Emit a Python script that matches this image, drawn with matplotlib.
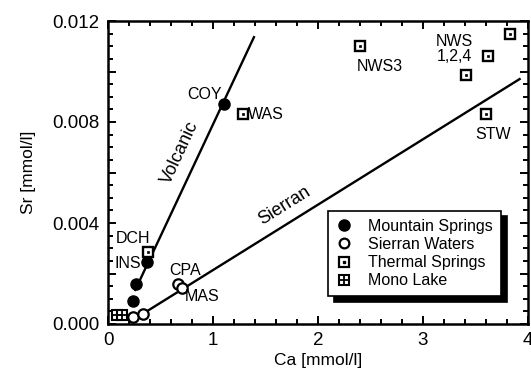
import matplotlib
matplotlib.use("Agg")
import matplotlib.pyplot as plt
from matplotlib.ticker import MultipleLocator, FuncFormatter
from matplotlib.lines import Line2D

plt.rcParams['font.family'] = ['Liberation Sans', 'DejaVu Sans']

# ---- data ----
mountain_ca = [1.10, 0.37, 0.27, 0.24]
mountain_sr = [0.0087, 0.00246, 0.00159, 0.00091]

sierran_ca = [0.24, 0.33, 0.67, 0.70]
sierran_sr = [0.00028, 0.00040, 0.00160, 0.00143]

thermal_ca = [1.29, 2.40, 3.41, 3.62, 3.83, 3.60, 0.38]
thermal_sr = [0.0083, 0.0110, 0.00985, 0.01061, 0.01148, 0.0083, 0.00286]

mono_ca = [0.086, 0.133]
mono_sr = [0.00036, 0.00036]

volcanic_line_ca = [0.26, 1.39]
volcanic_line_sr = [0.00135, 0.01136]
sierran_line_ca = [0.33, 3.92]
sierran_line_sr = [0.00040, 0.0097]

labels = ["COY", "WAS", "NWS3", "NWS\n1,2,4", "STW", "DCH", "INS", "CPA", "MAS"]
label_ca = [0.92, 1.33, 2.59, 3.30, 3.67, 0.24, 0.19, 0.73, 0.90]
label_sr = [0.0091, 0.0083, 0.0102, 0.0109, 0.0075, 0.0034, 0.0024, 0.0021, 0.00107]
label_ha = ["center", "left", "center", "center", "center", "center", "center", "center", "center"]

legend_names = ["Mountain Springs", "Sierran Waters", "Thermal Springs", "Mono Lake"]

# ---- figure ----
fig = plt.figure(figsize=(5.31, 3.81), dpi=100)
ax = fig.add_axes([108/531, 1 - 324/381, 420/531, 303/381])

ax.plot(volcanic_line_ca, volcanic_line_sr, color='black', lw=1.7, zorder=2)
ax.plot(sierran_line_ca, sierran_line_sr, color='black', lw=1.7, zorder=2)

ax.plot(mountain_ca, mountain_sr, 'o', ms=8, mfc='black', mec='black', zorder=4, clip_on=False)
ax.plot(sierran_ca, sierran_sr, 'o', ms=7.5, mfc='white', mec='black', mew=1.6, zorder=4, clip_on=False)
ax.plot(thermal_ca, thermal_sr, 's', ms=7.5, mfc='white', mec='black', mew=1.7, zorder=3, clip_on=False)
ax.plot(thermal_ca, thermal_sr, 's', ms=1.8, mfc='black', mec='black', mew=0.5, zorder=3, clip_on=False)
ax.plot(mono_ca, mono_sr, 's', ms=7, mfc='white', mec='black', mew=1.5, zorder=3, clip_on=False)
ax.plot(mono_ca, mono_sr, '+', ms=7, mec='black', mew=1.3, zorder=3, clip_on=False)

for t, x, y, ha in zip(labels, label_ca, label_sr, label_ha):
    ax.text(x, y, t, ha=ha, va='center', fontsize=11.5, linespacing=1.0, zorder=5)

ax.text(0.69, 0.0068, "Volcanic", rotation=65, ha='center', va='center', fontsize=13)
ax.text(1.68, 0.0047, "Sierran", rotation=32, ha='center', va='center', fontsize=13)

ax.set_xlim(0, 4)
ax.set_ylim(0, 0.012)
ax.xaxis.set_major_locator(MultipleLocator(1))
ax.xaxis.set_minor_locator(MultipleLocator(0.2))
ax.yaxis.set_major_locator(MultipleLocator(0.002))
ax.yaxis.set_minor_locator(MultipleLocator(0.0005))
ax.yaxis.set_major_formatter(FuncFormatter(lambda v, p: f"{v:.3f}" if abs(round(v / 0.004) * 0.004 - v) < 1e-9 else ""))
ax.tick_params(which='both', direction='in', top=True, right=True, width=1.4)
ax.tick_params(which='major', length=6, labelsize=13.5, pad=6)
ax.tick_params(which='minor', length=3.5)
for s in ax.spines.values():
    s.set_linewidth(1.8)

ax.set_xlabel("Ca [mmol/l]", fontsize=12.5, labelpad=3)
ax.set_ylabel("Sr [mmol/l]", fontsize=12.5, labelpad=12)

handles = [
    Line2D([], [], ls='none', marker='o', ms=8, mfc='black', mec='black'),
    Line2D([], [], ls='none', marker='o', ms=7, mfc='white', mec='black', mew=1.6),
    (Line2D([], [], ls='none', marker='s', ms=7, mfc='white', mec='black', mew=1.6),
     Line2D([], [], ls='none', marker='s', ms=1.8, mfc='black', mec='black')),
    (Line2D([], [], ls='none', marker='s', ms=7, mfc='white', mec='black', mew=1.5),
     Line2D([], [], ls='none', marker='+', ms=7, mec='black', mew=1.3)),
]
leg = ax.legend(handles, legend_names, loc='lower right', bbox_to_anchor=(0.955, 0.065),
                fontsize=11.5, frameon=True, fancybox=False, handlelength=1.0,
                handletextpad=1.0, labelspacing=0.2, borderpad=0.5,
                shadow={'color': 'black', 'alpha': 1, 'ox': 4, 'oy': -4})
leg.get_frame().set_edgecolor('black')
leg.get_frame().set_linewidth(1.2)

fig.savefig("out.png", dpi=100)
